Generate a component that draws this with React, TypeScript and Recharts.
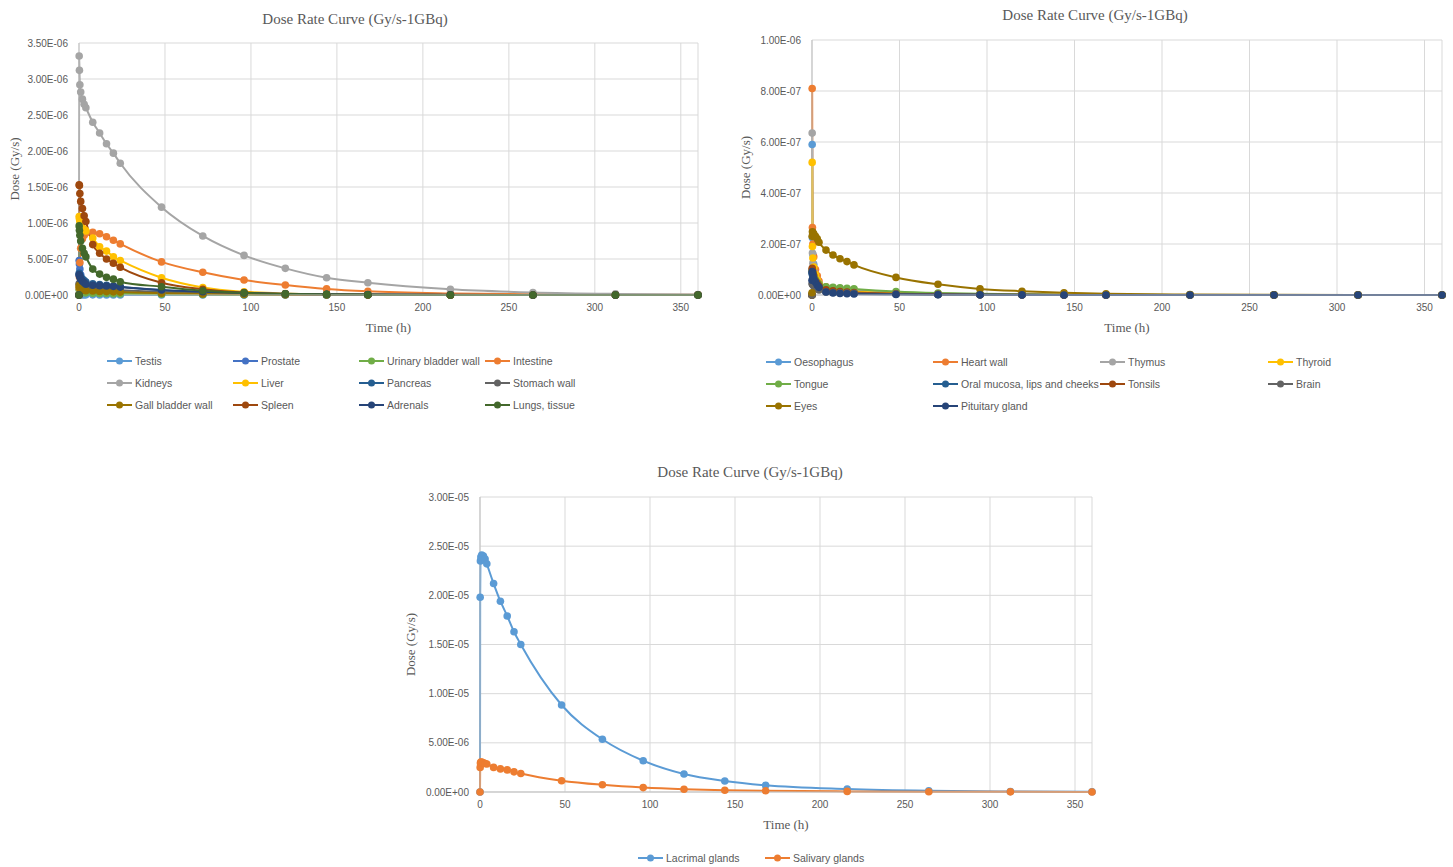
import { LineChart, Line, XAxis, YAxis, CartesianGrid, Legend, Label } from "recharts"

// ------------------------------------------------------------------
// Data (time in hours, dose rate in Gy/s per 1 GBq)
// ------------------------------------------------------------------

const hours = [0, 0.1, 0.25, 0.5, 1, 2, 3, 4, 8, 12, 16, 20, 24, 48, 72, 96, 120, 144, 168, 216, 264, 312, 360]
const hourTicks = [0, 50, 100, 150, 200, 250, 300, 350]

// chart 1
const testis = [0, 0.3e-8, 0.3e-8, 0.28e-8, 0.26e-8, 0.24e-8, 0.22e-8, 0.2e-8, 0.18e-8, 0.16e-8, 0.15e-8, 0.14e-8, 0.13e-8, 0.8e-9, 0.5e-9, 0.3e-9, 0.2e-9, 0.1e-9, 0.07e-9, 0.03e-9, 0.01e-9, 0.005e-9, 0.002e-9]
const prostate = [0, 4.8e-7, 4.3e-7, 3.6e-7, 2.8e-7, 2.0e-7, 1.5e-7, 1.2e-7, 0.8e-7, 0.6e-7, 0.5e-7, 0.45e-7, 0.4e-7, 0.2e-7, 0.1e-7, 0.05e-7, 0.03e-7, 0.015e-7, 0.008e-7, 0.003e-7, 0.001e-7, 0.0005e-7, 0.0002e-7]
const urinaryBladder = [0, 0.8e-7, 0.7e-7, 0.6e-7, 0.5e-7, 0.4e-7, 0.35e-7, 0.3e-7, 0.25e-7, 0.22e-7, 0.2e-7, 0.18e-7, 0.16e-7, 0.1e-7, 0.06e-7, 0.035e-7, 0.02e-7, 0.012e-7, 0.007e-7, 0.003e-7, 0.001e-7, 0.0005e-7, 0.0002e-7]
const intestine = [0, 1.0e-7, 2.5e-7, 4.5e-7, 6.5e-7, 7.8e-7, 8.3e-7, 8.6e-7, 8.7e-7, 8.5e-7, 8.1e-7, 7.6e-7, 7.1e-7, 4.6e-7, 3.15e-7, 2.08e-7, 1.39e-7, 0.85e-7, 0.52e-7, 0.22e-7, 0.09e-7, 0.04e-7, 0.02e-7]
const kidneys = [0, 3.32e-6, 3.12e-6, 2.92e-6, 2.82e-6, 2.72e-6, 2.65e-6, 2.6e-6, 2.4e-6, 2.25e-6, 2.1e-6, 1.97e-6, 1.83e-6, 1.22e-6, 8.2e-7, 5.5e-7, 3.7e-7, 2.4e-7, 1.7e-7, 0.79e-7, 0.35e-7, 0.15e-7, 0.06e-7]
const liver = [0, 10.9e-7, 10.6e-7, 10.2e-7, 9.7e-7, 9.3e-7, 9.1e-7, 8.9e-7, 7.9e-7, 6.7e-7, 6.1e-7, 5.3e-7, 4.8e-7, 2.4e-7, 1.05e-7, 0.45e-7, 0.2e-7, 0.09e-7, 0.04e-7, 0.008e-7, 0.002e-7, 0.0005e-7, 0.0001e-7]
const pancreas = [0, 3.0e-7, 2.9e-7, 2.7e-7, 2.5e-7, 2.2e-7, 2.0e-7, 1.8e-7, 1.55e-7, 1.45e-7, 1.35e-7, 1.25e-7, 1.15e-7, 0.65e-7, 0.35e-7, 0.2e-7, 0.1e-7, 0.06e-7, 0.03e-7, 0.01e-7, 0.003e-7, 0.001e-7, 0.0003e-7]
const stomachWall = [0, 1.6e-7, 1.5e-7, 1.4e-7, 1.25e-7, 1.1e-7, 1.0e-7, 0.95e-7, 0.85e-7, 0.8e-7, 0.75e-7, 0.7e-7, 0.65e-7, 0.4e-7, 0.25e-7, 0.15e-7, 0.09e-7, 0.05e-7, 0.03e-7, 0.01e-7, 0.004e-7, 0.0015e-7, 0.0005e-7]
const gallBladder = [0, 1.3e-7, 1.1e-7, 0.95e-7, 0.8e-7, 0.7e-7, 0.65e-7, 0.6e-7, 0.55e-7, 0.5e-7, 0.47e-7, 0.44e-7, 0.4e-7, 0.25e-7, 0.15e-7, 0.09e-7, 0.05e-7, 0.03e-7, 0.02e-7, 0.007e-7, 0.003e-7, 0.001e-7, 0.0004e-7]
const spleen = [0, 15.3e-7, 15.2e-7, 14.1e-7, 13.0e-7, 12.0e-7, 11.0e-7, 10.2e-7, 7.0e-7, 5.8e-7, 5.0e-7, 4.4e-7, 3.85e-7, 1.7e-7, 0.8e-7, 0.35e-7, 0.15e-7, 0.07e-7, 0.03e-7, 0.006e-7, 0.001e-7, 0.0003e-7, 0.0001e-7]
const adrenals = [0, 2.8e-7, 2.7e-7, 2.5e-7, 2.2e-7, 1.9e-7, 1.7e-7, 1.5e-7, 1.35e-7, 1.3e-7, 1.25e-7, 1.2e-7, 1.1e-7, 0.7e-7, 0.45e-7, 0.28e-7, 0.17e-7, 0.1e-7, 0.06e-7, 0.02e-7, 0.008e-7, 0.003e-7, 0.001e-7]
const lungs = [0, 9.6e-7, 9.0e-7, 8.3e-7, 7.5e-7, 6.5e-7, 5.8e-7, 5.3e-7, 3.6e-7, 2.9e-7, 2.45e-7, 2.2e-7, 1.85e-7, 1.15e-7, 0.6e-7, 0.3e-7, 0.15e-7, 0.08e-7, 0.04e-7, 0.01e-7, 0.003e-7, 0.001e-7, 0.0003e-7]

// chart 2
const oesophagus = [0, 5.9e-7, 2.25e-7, 1.6e-7, 1.2e-7, 0.8e-7, 0.6e-7, 0.45e-7, 0.25e-7, 0.2e-7, 0.18e-7, 0.16e-7, 0.14e-7, 0.07e-7, 0.035e-7, 0.018e-7, 0.009e-7, 0.005e-7, 0.003e-7, 0.001e-7, 0.0003e-7, 0.0001e-7, 0]
const heartWall = [0, 8.1e-7, 2.65e-7, 2.0e-7, 1.5e-7, 1.0e-7, 0.75e-7, 0.55e-7, 0.32e-7, 0.28e-7, 0.25e-7, 0.22e-7, 0.2e-7, 0.1e-7, 0.05e-7, 0.025e-7, 0.013e-7, 0.007e-7, 0.004e-7, 0.001e-7, 0.0003e-7, 0.0001e-7, 0]
const thymus = [0, 6.35e-7, 1.65e-7, 1.25e-7, 0.95e-7, 0.7e-7, 0.55e-7, 0.45e-7, 0.28e-7, 0.24e-7, 0.21e-7, 0.19e-7, 0.17e-7, 0.09e-7, 0.05e-7, 0.025e-7, 0.013e-7, 0.007e-7, 0.004e-7, 0.001e-7, 0.0003e-7, 0.0001e-7, 0]
const thyroid = [0, 5.2e-7, 1.9e-7, 1.45e-7, 1.1e-7, 0.8e-7, 0.6e-7, 0.45e-7, 0.25e-7, 0.2e-7, 0.18e-7, 0.16e-7, 0.14e-7, 0.07e-7, 0.035e-7, 0.018e-7, 0.009e-7, 0.005e-7, 0.003e-7, 0.001e-7, 0.0003e-7, 0.0001e-7, 0]
const tongue = [0, 0.95e-7, 0.9e-7, 0.85e-7, 0.75e-7, 0.6e-7, 0.5e-7, 0.42e-7, 0.32e-7, 0.3e-7, 0.28e-7, 0.26e-7, 0.24e-7, 0.14e-7, 0.08e-7, 0.045e-7, 0.025e-7, 0.014e-7, 0.008e-7, 0.003e-7, 0.001e-7, 0.0003e-7, 0.0001e-7]
const oralMucosa = [0, 0.85e-7, 0.8e-7, 0.7e-7, 0.6e-7, 0.45e-7, 0.35e-7, 0.28e-7, 0.15e-7, 0.12e-7, 0.1e-7, 0.09e-7, 0.08e-7, 0.04e-7, 0.02e-7, 0.01e-7, 0.005e-7, 0.003e-7, 0.002e-7, 0.001e-7, 0.0003e-7, 0.0001e-7, 0]
const tonsils = [0, 1.05e-7, 1.0e-7, 0.9e-7, 0.75e-7, 0.55e-7, 0.45e-7, 0.35e-7, 0.2e-7, 0.16e-7, 0.14e-7, 0.12e-7, 0.1e-7, 0.05e-7, 0.025e-7, 0.012e-7, 0.006e-7, 0.003e-7, 0.002e-7, 0.001e-7, 0.0003e-7, 0.0001e-7, 0]
const brain = [0, 0.45e-7, 0.42e-7, 0.4e-7, 0.35e-7, 0.3e-7, 0.25e-7, 0.2e-7, 0.12e-7, 0.1e-7, 0.09e-7, 0.08e-7, 0.07e-7, 0.035e-7, 0.018e-7, 0.009e-7, 0.005e-7, 0.003e-7, 0.002e-7, 0.001e-7, 0.0003e-7, 0.0001e-7, 0]
const eyes = [0.09e-7, 2.3e-7, 2.48e-7, 2.45e-7, 2.4e-7, 2.3e-7, 2.2e-7, 2.07e-7, 1.76e-7, 1.57e-7, 1.42e-7, 1.31e-7, 1.18e-7, 0.69e-7, 0.42e-7, 0.24e-7, 0.15e-7, 0.09e-7, 0.05e-7, 0.02e-7, 0.008e-7, 0.003e-7, 0.001e-7]
const pituitary = [0.58e-7, 0.92e-7, 0.88e-7, 0.8e-7, 0.65e-7, 0.5e-7, 0.38e-7, 0.3e-7, 0.12e-7, 0.08e-7, 0.06e-7, 0.05e-7, 0.04e-7, 0.02e-7, 0.01e-7, 0.005e-7, 0.003e-7, 0.002e-7, 0.001e-7, 0.0005e-7, 0.0002e-7, 0.0001e-7, 0]

// chart 3
const lacrimal = [0, 1.98e-5, 2.35e-5, 2.39e-5, 2.41e-5, 2.40e-5, 2.37e-5, 2.32e-5, 2.12e-5, 1.94e-5, 1.79e-5, 1.63e-5, 1.50e-5, 8.85e-6, 5.36e-6, 3.18e-6, 1.83e-6, 1.12e-6, 6.8e-7, 3.0e-7, 1.2e-7, 5e-8, 2e-8]
const salivary = [0, 2.5e-6, 2.95e-6, 3.05e-6, 3.05e-6, 2.98e-6, 2.9e-6, 2.85e-6, 2.5e-6, 2.35e-6, 2.25e-6, 2.05e-6, 1.88e-6, 1.15e-6, 7.3e-7, 4.5e-7, 2.8e-7, 1.8e-7, 1.2e-7, 6e-8, 3e-8, 1.5e-8, 7e-9]

const ticks1 = [0, 5e-7, 1e-6, 1.5e-6, 2e-6, 2.5e-6, 3e-6, 3.5e-6]
const ticks2 = [0, 2e-7, 4e-7, 6e-7, 8e-7, 1e-6]
const ticks3 = [0, 5e-6, 1e-5, 1.5e-5, 2e-5, 2.5e-5, 3e-5]

// ------------------------------------------------------------------
// Types / helpers
// ------------------------------------------------------------------

interface Series {
    key: string
    name: string
    color: string
    values: number[]
}

const series1: Series[] = [
    { key: "testis", name: "Testis", color: "#5B9BD5", values: testis },
    { key: "prostate", name: "Prostate", color: "#4472C4", values: prostate },
    { key: "urinary", name: "Urinary bladder wall", color: "#70AD47", values: urinaryBladder },
    { key: "intestine", name: "Intestine", color: "#ED7D31", values: intestine },
    { key: "kidneys", name: "Kidneys", color: "#A5A5A5", values: kidneys },
    { key: "liver", name: "Liver", color: "#FFC000", values: liver },
    { key: "pancreas", name: "Pancreas", color: "#255E91", values: pancreas },
    { key: "stomach", name: "Stomach wall", color: "#636363", values: stomachWall },
    { key: "gall", name: "Gall bladder wall", color: "#997300", values: gallBladder },
    { key: "spleen", name: "Spleen", color: "#9E480E", values: spleen },
    { key: "adrenals", name: "Adrenals", color: "#264478", values: adrenals },
    { key: "lungs", name: "Lungs, tissue", color: "#43682B", values: lungs },
]

const series2: Series[] = [
    { key: "oesophagus", name: "Oesophagus", color: "#5B9BD5", values: oesophagus },
    { key: "heart", name: "Heart wall", color: "#ED7D31", values: heartWall },
    { key: "thymus", name: "Thymus", color: "#A5A5A5", values: thymus },
    { key: "thyroid", name: "Thyroid", color: "#FFC000", values: thyroid },
    { key: "tongue", name: "Tongue", color: "#70AD47", values: tongue },
    { key: "oral", name: "Oral mucosa, lips and cheeks", color: "#255E91", values: oralMucosa },
    { key: "tonsils", name: "Tonsils", color: "#9E480E", values: tonsils },
    { key: "brain", name: "Brain", color: "#636363", values: brain },
    { key: "eyes", name: "Eyes", color: "#997300", values: eyes },
    { key: "pituitary", name: "Pituitary gland", color: "#264478", values: pituitary },
]

const series3: Series[] = [
    { key: "lacrimal", name: "Lacrimal glands", color: "#5B9BD5", values: lacrimal },
    { key: "salivary", name: "Salivary glands", color: "#ED7D31", values: salivary },
]

function buildRows(list: Series[]) {
    return hours.map((t, i) => {
        const row: Record<string, number> = { t }
        list.forEach((s) => (row[s.key] = s.values[i]))
        return row
    })
}

function sci(v: number) {
    const [m, e] = v.toExponential(2).split("e")
    const sign = e.startsWith("-") ? "-" : "+"
    return `${m}E${sign}${e.replace(/[+-]/, "").padStart(2, "0")}`
}

const TEXT = "#595959"
const SANS = "'Liberation Sans', Arial, sans-serif"
const SERIF = "'Liberation Serif', 'Times New Roman', serif"

// ------------------------------------------------------------------
// Legend
// ------------------------------------------------------------------

function GridLegend({ items, cols, rows, height }: { items: Series[]; cols: number[]; rows: number[]; height: number }) {
    return (
        <div style={{ position: "relative", height, fontFamily: SANS, fontSize: 10.5, color: TEXT }}>
            {items.map((s, i) => {
                const c = i % cols.length
                const r = Math.floor(i / cols.length)
                return (
                    <div
                        key={s.key}
                        style={{ position: "absolute", left: cols[c], top: rows[r] - 7, height: 14, display: "flex", alignItems: "center", whiteSpace: "nowrap" }}
                    >
                        <svg width={25} height={10} style={{ marginRight: 3 }}>
                            <line x1={0} y1={5} x2={25} y2={5} stroke={s.color} strokeWidth={2} />
                            <circle cx={12.5} cy={5} r={3.5} fill={s.color} />
                        </svg>
                        <span>{s.name}</span>
                    </div>
                )
            })}
        </div>
    )
}

// ------------------------------------------------------------------
// Chart
// ------------------------------------------------------------------

interface DoseChartProps {
    left: number
    top: number
    width: number
    height: number
    margin: { top: number; right: number; left: number; bottom: number }
    yAxisWidth: number
    yMax: number
    yTicks: number[]
    series: Series[]
    legendTop: number
    legendHeight: number
    legendCols: number[]
    legendRows: number[]
    yLabelX: number
}

function DoseChart(p: DoseChartProps) {
    const rows = buildRows(p.series)
    return (
        <div style={{ position: "absolute", left: p.left, top: p.top }}>
            <LineChart width={p.width} height={p.height} data={rows} margin={p.margin}>
                <CartesianGrid stroke="#d9d9d9" strokeWidth={1} />
                <XAxis
                    dataKey="t"
                    type="number"
                    domain={[0, 360]}
                    ticks={hourTicks}
                    height={40}
                    tickSize={0}
                    tickMargin={9}
                    tick={{ fontSize: 10, fill: TEXT, fontFamily: SANS }}
                    axisLine={{ stroke: "#bfbfbf" }}
                    tickLine={false}
                >
                    <Label
                        content={(lp: any) => {
                            const vb = lp.viewBox
                            return (
                                <text x={vb.x + vb.width / 2} y={vb.y + 32} textAnchor="middle" dominantBaseline="central" fill={TEXT} fontSize={13} fontFamily={SERIF}>
                                    Time (h)
                                </text>
                            )
                        }}
                    />
                </XAxis>
                <YAxis
                    type="number"
                    domain={[0, p.yMax]}
                    ticks={p.yTicks}
                    width={p.yAxisWidth}
                    tickFormatter={sci}
                    tickSize={0}
                    tickMargin={11}
                    tick={{ fontSize: 10, fill: TEXT, fontFamily: SANS }}
                    axisLine={{ stroke: "#bfbfbf" }}
                    tickLine={false}
                >
                    <Label
                        content={(lp: any) => {
                            const vb = lp.viewBox
                            const cy = vb.y + vb.height / 2
                            return (
                                <text
                                    x={p.yLabelX}
                                    y={cy}
                                    transform={`rotate(-90 ${p.yLabelX} ${cy})`}
                                    textAnchor="middle"
                                    dominantBaseline="central"
                                    fill={TEXT}
                                    fontSize={13}
                                    fontFamily={SERIF}
                                >
                                    Dose (Gy/s)
                                </text>
                            )
                        }}
                    />
                </YAxis>
                <Legend
                    verticalAlign="bottom"
                    wrapperStyle={{ left: 0, top: p.legendTop, width: p.width, height: p.legendHeight }}
                    content={() => <GridLegend items={p.series} cols={p.legendCols} rows={p.legendRows} height={p.legendHeight} />}
                />
                {p.series.map((s) => (
                    <Line
                        key={s.key}
                        dataKey={s.key}
                        name={s.name}
                        type="monotone"
                        stroke={s.color}
                        strokeWidth={2}
                        dot={{ r: 3.8, fill: s.color, stroke: s.color, strokeWidth: 0 }}
                        activeDot={false}
                        isAnimationActive={false}
                    />
                ))}
            </LineChart>
        </div>
    )
}

function Title({ x, y }: { x: number; y: number }) {
    return (
        <div
            style={{
                position: "absolute",
                left: x,
                top: y,
                transform: "translate(-50%, -50%)",
                whiteSpace: "nowrap",
                fontFamily: SERIF,
                fontSize: 15,
                color: TEXT,
            }}
        >
            Dose Rate Curve (Gy/s-1GBq)
        </div>
    )
}

export default function App() {
    return (
        <div style={{ position: "absolute", left: 0, top: 0, width: 1453, height: 867, background: "#fff", overflow: "hidden" }}>
            <DoseChart
                left={0}
                top={0}
                width={720}
                height={420}
                margin={{ top: 43, right: 22, left: 0, bottom: 5 }}
                yAxisWidth={79}
                yMax={3.5e-6}
                yTicks={ticks1}
                series={series1}
                legendTop={340}
                legendHeight={80}
                legendCols={[107, 233, 359, 485]}
                legendRows={[21, 43, 65]}
                yLabelX={14}
            />
            <DoseChart
                left={730}
                top={0}
                width={723}
                height={420}
                margin={{ top: 40, right: 11, left: 0, bottom: 5 }}
                yAxisWidth={82}
                yMax={1e-6}
                yTicks={ticks2}
                series={series2}
                legendTop={340}
                legendHeight={80}
                legendCols={[36, 203, 370, 538]}
                legendRows={[22, 44, 66]}
                yLabelX={15}
            />
            <DoseChart
                left={380}
                top={460}
                width={740}
                height={407}
                margin={{ top: 37, right: 28, left: 0, bottom: 5 }}
                yAxisWidth={100}
                yMax={3e-5}
                yTicks={ticks3}
                series={series3}
                legendTop={372}
                legendHeight={30}
                legendCols={[258, 385]}
                legendRows={[26]}
                yLabelX={30}
            />
            <Title x={355} y={19} />
            <Title x={1095} y={15} />
            <Title x={750} y={472} />
        </div>
    )
}
